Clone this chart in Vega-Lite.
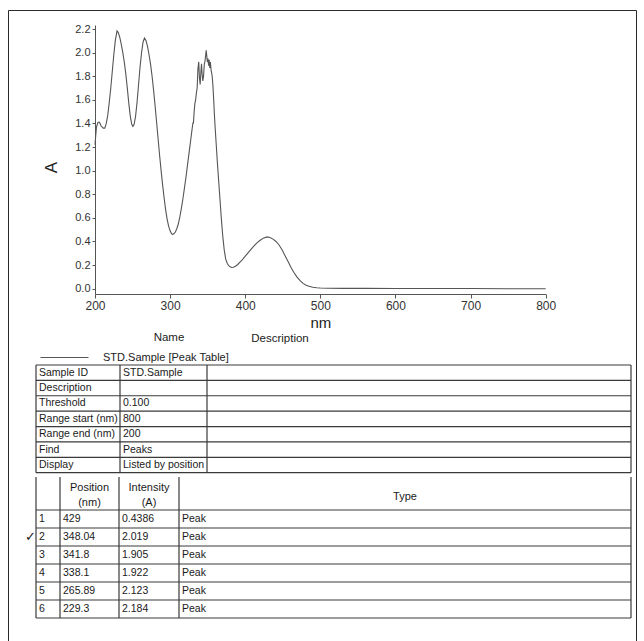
{
  "$schema": "https://vega.github.io/schema/vega-lite/v6.json",
  "width": 628,
  "height": 640,
  "autosize": {"type": "none"},
  "padding": {"left": 8, "top": 10, "right": 8, "bottom": 0},
  "background": "white",
  "config": {"view": {"stroke": "#2a2a2a", "strokeWidth": 1}, "font": "Liberation Sans"},
  "datasets": {
    "spectrum": [
      {"nm":200,"A":1.22},{"nm":201,"A":1.30},{"nm":202,"A":1.37},{"nm":204,"A":1.41},{"nm":206,"A":1.41},{"nm":208,"A":1.38},{"nm":211,"A":1.36},{"nm":213,"A":1.36},{"nm":215,"A":1.40},{"nm":217,"A":1.47},{"nm":219,"A":1.58},{"nm":221,"A":1.70},{"nm":223,"A":1.84},{"nm":225,"A":1.98},{"nm":227,"A":2.10},{"nm":229.3,"A":2.184},{"nm":231,"A":2.17},{"nm":233,"A":2.13},{"nm":235,"A":2.07},{"nm":237,"A":2.00},{"nm":239,"A":1.92},{"nm":241,"A":1.82},{"nm":243,"A":1.70},{"nm":245,"A":1.57},{"nm":247,"A":1.46},{"nm":249,"A":1.39},{"nm":250.5,"A":1.375},{"nm":252,"A":1.39},{"nm":254,"A":1.46},{"nm":256,"A":1.58},{"nm":258,"A":1.73},{"nm":260,"A":1.88},{"nm":262,"A":2.00},{"nm":264,"A":2.09},{"nm":265.89,"A":2.123},{"nm":268,"A":2.10},{"nm":270,"A":2.05},{"nm":272,"A":1.98},{"nm":274,"A":1.90},{"nm":276,"A":1.80},{"nm":278,"A":1.68},{"nm":280,"A":1.55},{"nm":282,"A":1.41},{"nm":284,"A":1.27},{"nm":286,"A":1.13},{"nm":288,"A":1.00},{"nm":290,"A":0.88},{"nm":292,"A":0.77},{"nm":294,"A":0.67},{"nm":296,"A":0.59},{"nm":298,"A":0.53},{"nm":300,"A":0.49},{"nm":302,"A":0.465},{"nm":303.5,"A":0.46},{"nm":305,"A":0.465},{"nm":307,"A":0.48},{"nm":309,"A":0.51},{"nm":311,"A":0.55},{"nm":313,"A":0.61},{"nm":315,"A":0.68},{"nm":317,"A":0.76},{"nm":319,"A":0.85},{"nm":321,"A":0.94},{"nm":323,"A":1.04},{"nm":325,"A":1.14},{"nm":327,"A":1.24},{"nm":329,"A":1.34},{"nm":330.5,"A":1.41},{"nm":331,"A":1.40},{"nm":332,"A":1.50},{"nm":333,"A":1.57},{"nm":334,"A":1.60},{"nm":335,"A":1.66},{"nm":336,"A":1.70},{"nm":337,"A":1.86},{"nm":338.1,"A":1.922},{"nm":339,"A":1.79},{"nm":340,"A":1.73},{"nm":341,"A":1.84},{"nm":341.8,"A":1.905},{"nm":342.5,"A":1.83},{"nm":343.5,"A":1.76},{"nm":344.5,"A":1.80},{"nm":345.5,"A":1.90},{"nm":346.5,"A":1.93},{"nm":347.2,"A":1.97},{"nm":348.04,"A":2.019},{"nm":348.8,"A":1.97},{"nm":349.6,"A":1.92},{"nm":350.4,"A":1.95},{"nm":351.2,"A":1.89},{"nm":352,"A":1.94},{"nm":352.8,"A":1.87},{"nm":353.6,"A":1.92},{"nm":354.4,"A":1.86},{"nm":355.2,"A":1.83},{"nm":356,"A":1.80},{"nm":357,"A":1.72},{"nm":358,"A":1.60},{"nm":359,"A":1.47},{"nm":360,"A":1.36},{"nm":361,"A":1.26},{"nm":362,"A":1.16},{"nm":363,"A":1.06},{"nm":364,"A":0.97},{"nm":365,"A":0.88},{"nm":366,"A":0.79},{"nm":367,"A":0.70},{"nm":368,"A":0.61},{"nm":369,"A":0.53},{"nm":370,"A":0.45},{"nm":371,"A":0.39},{"nm":372,"A":0.33},{"nm":373,"A":0.29},{"nm":374,"A":0.25},{"nm":376,"A":0.215},{"nm":378,"A":0.195},{"nm":380,"A":0.185},{"nm":382,"A":0.18},{"nm":384,"A":0.182},{"nm":387,"A":0.19},{"nm":390,"A":0.205},{"nm":393,"A":0.225},{"nm":396,"A":0.245},{"nm":400,"A":0.275},{"nm":404,"A":0.305},{"nm":408,"A":0.335},{"nm":412,"A":0.365},{"nm":416,"A":0.39},{"nm":420,"A":0.41},{"nm":424,"A":0.428},{"nm":429,"A":0.4386},{"nm":433,"A":0.433},{"nm":437,"A":0.42},{"nm":441,"A":0.40},{"nm":445,"A":0.37},{"nm":449,"A":0.33},{"nm":453,"A":0.28},{"nm":457,"A":0.23},{"nm":461,"A":0.18},{"nm":465,"A":0.135},{"nm":469,"A":0.098},{"nm":473,"A":0.068},{"nm":477,"A":0.045},{"nm":481,"A":0.03},{"nm":485,"A":0.02},{"nm":490,"A":0.012},{"nm":495,"A":0.008},{"nm":500,"A":0.006},{"nm":510,"A":0.004},{"nm":530,"A":0.003},{"nm":560,"A":0.003},{"nm":600,"A":0.002},{"nm":650,"A":0.002},{"nm":700,"A":0.001},{"nm":750,"A":0.0},{"nm":800,"A":0.0}
    ],
    "headers": [
      {"slot": 0, "label": "Name"},
      {"slot": 1, "label": "Description"}
    ],
    "infoText": [
      {"r":0,"c":0,"t":"Sample ID"},{"r":0,"c":1,"t":"STD.Sample"},
      {"r":1,"c":0,"t":"Description"},
      {"r":2,"c":0,"t":"Threshold"},{"r":2,"c":1,"t":"0.100"},
      {"r":3,"c":0,"t":"Range start (nm)"},{"r":3,"c":1,"t":"800"},
      {"r":4,"c":0,"t":"Range end (nm)"},{"r":4,"c":1,"t":"200"},
      {"r":5,"c":0,"t":"Find"},{"r":5,"c":1,"t":"Peaks"},
      {"r":6,"c":0,"t":"Display"},{"r":6,"c":1,"t":"Listed by position"}
    ],
    "infoH": [
      {"r":0,"c0":0,"c1":3},{"r":1,"c0":0,"c1":3},{"r":2,"c0":0,"c1":3},{"r":3,"c0":0,"c1":3},
      {"r":4,"c0":0,"c1":3},{"r":5,"c0":0,"c1":3},{"r":6,"c0":0,"c1":3},{"r":7,"c0":0,"c1":3}
    ],
    "infoV": [
      {"c":0,"r0":0,"r1":7},{"c":1,"r0":0,"r1":7},{"c":2,"r0":0,"r1":7},{"c":3,"r0":0,"r1":7}
    ],
    "peakHead": [
      {"c":1,"t":"Position\n(nm)"},{"c":2,"t":"Intensity\n(A)"}
    ],
    "peakType": [
      {"c":3,"t":"Type"}
    ],
    "peakText": [
      {"k":1,"c":0,"t":"1"},{"k":1,"c":1,"t":"429"},{"k":1,"c":2,"t":"0.4386"},{"k":1,"c":3,"t":"Peak"},
      {"k":2,"c":0,"t":"2"},{"k":2,"c":1,"t":"348.04"},{"k":2,"c":2,"t":"2.019"},{"k":2,"c":3,"t":"Peak"},
      {"k":3,"c":0,"t":"3"},{"k":3,"c":1,"t":"341.8"},{"k":3,"c":2,"t":"1.905"},{"k":3,"c":3,"t":"Peak"},
      {"k":4,"c":0,"t":"4"},{"k":4,"c":1,"t":"338.1"},{"k":4,"c":2,"t":"1.922"},{"k":4,"c":3,"t":"Peak"},
      {"k":5,"c":0,"t":"5"},{"k":5,"c":1,"t":"265.89"},{"k":5,"c":2,"t":"2.123"},{"k":5,"c":3,"t":"Peak"},
      {"k":6,"c":0,"t":"6"},{"k":6,"c":1,"t":"229.3"},{"k":6,"c":2,"t":"2.184"},{"k":6,"c":3,"t":"Peak"}
    ],
    "peakCheck": [{"k":2,"c":0,"t":"✓"}],
    "peakH": [
      {"k":1,"c0":0,"c1":4},{"k":2,"c0":0,"c1":4},{"k":3,"c0":0,"c1":4},{"k":4,"c0":0,"c1":4},
      {"k":5,"c0":0,"c1":4},{"k":6,"c0":0,"c1":4},{"k":7,"c0":0,"c1":4}
    ],
    "peakV": [
      {"c":0,"k0":0,"k1":7},{"c":1,"k0":0,"k1":7},{"c":2,"k0":0,"k1":7},{"c":3,"k0":0,"k1":7},{"c":4,"k0":0,"k1":7}
    ]
  },
  "layer": [
    {
      "data": {"name": "spectrum"},
      "mark": {"type": "line", "strokeWidth": 1.1},
      "encoding": {
        "x": {
          "field": "nm", "type": "quantitative",
          "scale": {"domain": [200, 800], "range": [87, 537.7], "nice": false, "zero": false},
          "axis": {
            "values": [200, 300, 400, 500, 600, 700, 800], "offset": -356, "grid": false,
            "tickSize": 4, "tickColor": "#555", "domainColor": "#555", "labelFlush": false,
            "labelFont": "Liberation Sans", "labelFontSize": 12, "labelColor": "#333", "labelPadding": 2,
            "title": "nm", "titleFont": "Liberation Sans", "titleFontSize": 15, "titleFontWeight": "normal",
            "titleColor": "#222", "titlePadding": 4
          }
        },
        "y": {
          "field": "A", "type": "quantitative",
          "scale": {"domain": [-0.045, 2.234], "range": [284, 15], "nice": false, "zero": false},
          "axis": {
            "values": [0, 0.2, 0.4, 0.6, 0.8, 1.0, 1.2, 1.4, 1.6, 1.8, 2.0, 2.2], "format": ".1f",
            "offset": -87, "grid": false, "tickSize": 3, "tickColor": "#555", "domainColor": "#555",
            "labelFont": "Liberation Sans", "labelFontSize": 11, "labelColor": "#333", "labelPadding": 2,
            "title": "A", "titleFont": "Liberation Sans", "titleFontSize": 17, "titleFontWeight": "normal",
            "titleColor": "#222", "titlePadding": 14, "titleY": 157
          }
        },
        "color": {
          "datum": "STD.Sample [Peak Table]", "type": "nominal",
          "scale": {"range": ["#555555"]},
          "legend": {
            "orient": "none", "legendX": 32, "legendY": 323, "title": null, "padding": 0,
            "symbolType": "stroke", "symbolSize": 2304, "symbolStrokeWidth": 1,
            "labelFont": "Liberation Sans", "labelFontSize": 11, "labelColor": "#222", "labelOffset": 14
          }
        }
      }
    },
    {
      "data": {"name": "headers"},
      "mark": {"type": "text", "align": "center", "baseline": "middle", "fontSize": 11.5, "color": "#222", "font": "Liberation Sans"},
      "encoding": {
        "x": {"field": "slot", "type": "quantitative", "scale": {"domain": [0, 1], "range": [161, 272], "zero": false, "nice": false}, "axis": null},
        "y": {"field": "slot", "type": "quantitative", "scale": {"domain": [0, 1], "range": [328, 329], "zero": false, "nice": false}, "axis": null},
        "text": {"field": "label"}
      }
    },
    {
      "data": {"name": "infoH"},
      "mark": {"type": "rule", "color": "#3a3a3a", "strokeWidth": 1.2},
      "encoding": {
        "x": {"field": "c0", "type": "quantitative", "scale": {"domain": [0, 1, 2, 3], "range": [28, 112, 199, 623], "zero": false, "nice": false}, "axis": null},
        "x2": {"field": "c1"},
        "y": {"field": "r", "type": "quantitative", "scale": {"domain": [0, 7], "range": [355, 462.7], "zero": false, "nice": false}, "axis": null}
      }
    },
    {
      "data": {"name": "infoV"},
      "mark": {"type": "rule", "color": "#3a3a3a", "strokeWidth": 1.2},
      "encoding": {
        "x": {"field": "c", "type": "quantitative", "scale": {"domain": [0, 1, 2, 3], "range": [28, 112, 199, 623], "zero": false, "nice": false}, "axis": null},
        "y": {"field": "r0", "type": "quantitative", "scale": {"domain": [0, 7], "range": [355, 462.7], "zero": false, "nice": false}, "axis": null},
        "y2": {"field": "r1"}
      }
    },
    {
      "data": {"name": "infoText"},
      "mark": {"type": "text", "align": "left", "baseline": "middle", "dx": 3, "dy": 7.7, "fontSize": 10.5, "color": "#1a1a1a", "font": "Liberation Sans"},
      "encoding": {
        "x": {"field": "c", "type": "quantitative", "scale": {"domain": [0, 1, 2, 3], "range": [28, 112, 199, 623], "zero": false, "nice": false}, "axis": null},
        "y": {"field": "r", "type": "quantitative", "scale": {"domain": [0, 7], "range": [355, 462.7], "zero": false, "nice": false}, "axis": null},
        "text": {"field": "t"}
      }
    },
    {
      "data": {"name": "peakH"},
      "mark": {"type": "rule", "color": "#3a3a3a", "strokeWidth": 1.2},
      "encoding": {
        "x": {"field": "c0", "type": "quantitative", "scale": {"domain": [0, 1, 2, 3, 4], "range": [28, 52, 111, 171, 623], "zero": false, "nice": false}, "axis": null},
        "x2": {"field": "c1"},
        "y": {"field": "k", "type": "quantitative", "scale": {"domain": [0, 1, 7], "range": [467, 500, 608], "zero": false, "nice": false}, "axis": null}
      }
    },
    {
      "data": {"name": "peakV"},
      "mark": {"type": "rule", "color": "#3a3a3a", "strokeWidth": 1.2},
      "encoding": {
        "x": {"field": "c", "type": "quantitative", "scale": {"domain": [0, 1, 2, 3, 4], "range": [28, 52, 111, 171, 623], "zero": false, "nice": false}, "axis": null},
        "y": {"field": "k0", "type": "quantitative", "scale": {"domain": [0, 1, 7], "range": [467, 500, 608], "zero": false, "nice": false}, "axis": null},
        "y2": {"field": "k1"}
      }
    },
    {
      "data": {"name": "peakText"},
      "mark": {"type": "text", "align": "left", "baseline": "middle", "dx": 3, "dy": 9, "fontSize": 10.5, "color": "#1a1a1a", "font": "Liberation Sans"},
      "encoding": {
        "x": {"field": "c", "type": "quantitative", "scale": {"domain": [0, 1, 2, 3, 4], "range": [28, 52, 111, 171, 623], "zero": false, "nice": false}, "axis": null},
        "y": {"field": "k", "type": "quantitative", "scale": {"domain": [0, 1, 7], "range": [467, 500, 608], "zero": false, "nice": false}, "axis": null},
        "text": {"field": "t"}
      }
    },
    {
      "data": {"name": "peakCheck"},
      "mark": {"type": "text", "align": "right", "baseline": "middle", "dx": 0, "dy": 9, "fontSize": 13, "color": "#1a1a1a", "font": "DejaVu Sans"},
      "encoding": {
        "x": {"field": "c", "type": "quantitative", "scale": {"domain": [0, 1, 2, 3, 4], "range": [28, 52, 111, 171, 623], "zero": false, "nice": false}, "axis": null},
        "y": {"field": "k", "type": "quantitative", "scale": {"domain": [0, 1, 7], "range": [467, 500, 608], "zero": false, "nice": false}, "axis": null},
        "text": {"field": "t"}
      }
    },
    {
      "data": {"name": "peakHead"},
      "mark": {"type": "text", "align": "center", "baseline": "middle", "dy": 11, "lineBreak": "\n", "lineHeight": 15, "fontSize": 11, "color": "#1a1a1a", "font": "Liberation Sans"},
      "encoding": {
        "x": {"field": "c", "type": "quantitative", "scale": {"domain": [1, 2, 3], "range": [81.5, 141, 397], "zero": false, "nice": false}, "axis": null},
        "y": {"field": "c", "type": "quantitative", "scale": {"domain": [1, 3], "range": [467, 467.001], "zero": false, "nice": false}, "axis": null},
        "text": {"field": "t"}
      }
    },
    {
      "data": {"name": "peakType"},
      "mark": {"type": "text", "align": "center", "baseline": "middle", "dy": 20, "fontSize": 11, "color": "#1a1a1a", "font": "Liberation Sans"},
      "encoding": {
        "x": {"field": "c", "type": "quantitative", "scale": {"domain": [1, 2, 3], "range": [81.5, 141, 397], "zero": false, "nice": false}, "axis": null},
        "y": {"field": "c", "type": "quantitative", "scale": {"domain": [1, 3], "range": [467, 467.001], "zero": false, "nice": false}, "axis": null},
        "text": {"field": "t"}
      }
    }
  ],
  "resolve": {
    "scale": {"x": "independent", "y": "independent", "color": "independent"},
    "axis": {"x": "independent", "y": "independent"}
  }
}
